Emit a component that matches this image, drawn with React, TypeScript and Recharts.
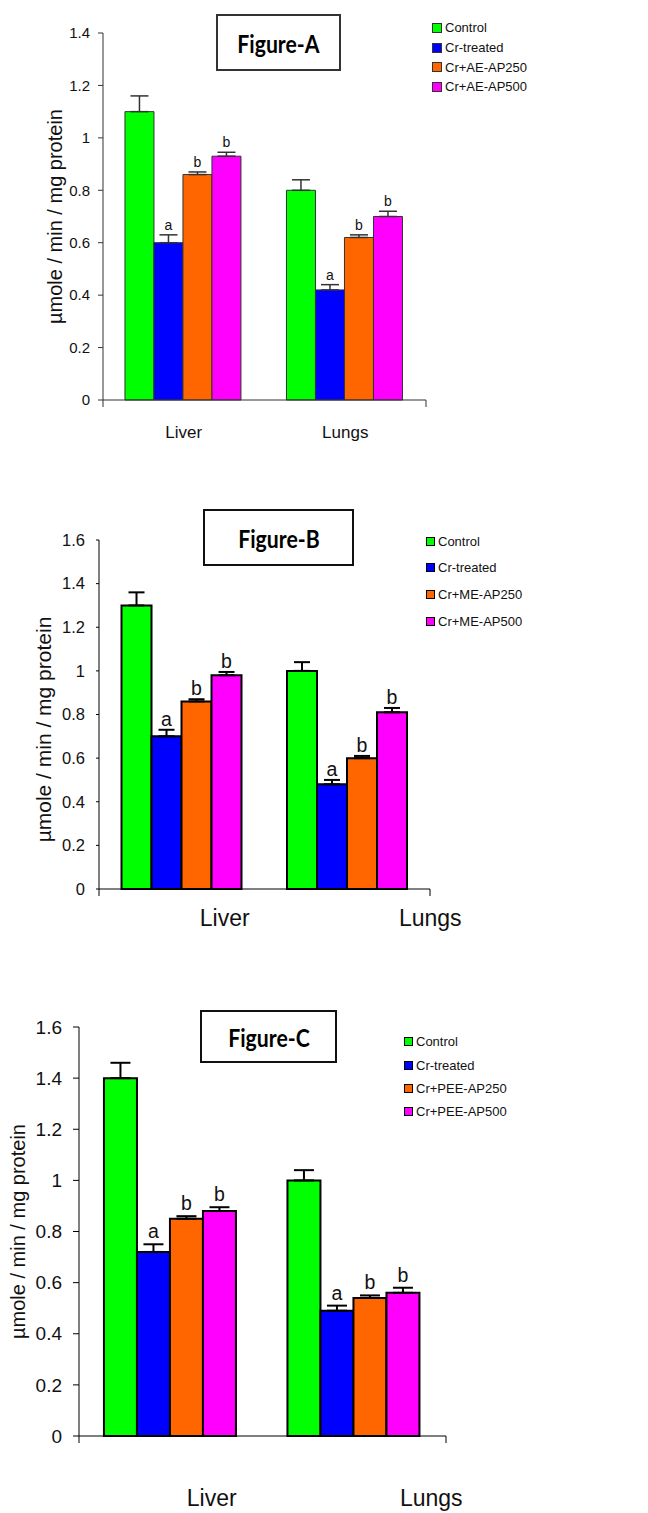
import React from "react";
import { Bar, BarChart, ErrorBar, Label, LabelList, Legend, XAxis, YAxis } from "recharts";

const organs = ["Liver", "Lungs"];
const seriesColors = ["#00ff00", "#0000ff", "#ff6600", "#ff00ff"];
const sigMarks = ["", "a", "b", "b"];

const namesA = ["Control", "Cr-treated", "Cr+AE-AP250", "Cr+AE-AP500"];
const liverA = [1.1, 0.6, 0.86, 0.93];
const lungsA = [0.8, 0.42, 0.62, 0.7];
const liverErrA = [0.06, 0.03, 0.01, 0.015];
const lungsErrA = [0.04, 0.02, 0.01, 0.02];

const namesB = ["Control", "Cr-treated", "Cr+ME-AP250", "Cr+ME-AP500"];
const liverB = [1.3, 0.7, 0.86, 0.98];
const lungsB = [1.0, 0.48, 0.6, 0.81];
const liverErrB = [0.06, 0.03, 0.01, 0.015];
const lungsErrB = [0.04, 0.02, 0.01, 0.02];

const namesC = ["Control", "Cr-treated", "Cr+PEE-AP250", "Cr+PEE-AP500"];
const liverC = [1.4, 0.72, 0.85, 0.88];
const lungsC = [1.0, 0.49, 0.54, 0.56];
const liverErrC = [0.06, 0.03, 0.01, 0.015];
const lungsErrC = [0.04, 0.02, 0.01, 0.02];

const ticksA = [0, 0.2, 0.4, 0.6, 0.8, 1, 1.2, 1.4];
const ticks16 = [0, 0.2, 0.4, 0.6, 0.8, 1, 1.2, 1.4, 1.6];

const YLABEL = "µmole / min / mg protein";
const FONT = "'Liberation Sans', Arial, sans-serif";

function buildRows(values: number[][], errs: number[][]) {
  return organs.map((organ, i) => {
    const row: any = { organ };
    values[i].forEach((v, k) => {
      row[`v${k}`] = v;
      row[`e${k}`] = [0, errs[i][k]];
      row[`m${k}`] = sigMarks[k];
    });
    return row;
  });
}

const figA = {
  title: "Figure-A",
  names: namesA,
  rows: buildRows([liverA, lungsA], [liverErrA, lungsErrA]),
  ticks: ticksA,
  top: 0, height: 450,
  plot: { top: 33, bottom: 400, left: 103, right: 426 },
  box: { left: 216, top: 14, width: 125, height: 57, font: 25, border: "2px solid #333" },
  legend: { left: 432, top: 18, row: 19.7, font: 13, sq: 8 },
  yLabel: { x: 55, font: 20, dy: 0 },
  tick: { font: 15, size: 5, margin: 8 },
  xLabel: { font: 17, base: 38, shift: [0, 0] },
  sig: { font: 14, gap: 5 },
  stroke: "#333", barW: 1, errW: 1.5, cap: 9,
};

const figB = {
  title: "Figure-B",
  names: namesB,
  rows: buildRows([liverB, lungsB], [liverErrB, lungsErrB]),
  ticks: ticks16,
  top: 480, height: 470,
  plot: { top: 60, bottom: 409, left: 99, right: 430 },
  box: { left: 203, top: 29, width: 151, height: 57, font: 25, border: "2px solid #111" },
  legend: { left: 426, top: 47.7, row: 26.7, font: 13, sq: 7 },
  yLabel: { x: 43, font: 21, dy: 15 },
  tick: { font: 16.5, size: 3, margin: 11 },
  xLabel: { font: 23, base: 37, shift: [43, 83] },
  sig: { font: 19.5, gap: 4 },
  stroke: "#000", barW: 2, errW: 2, cap: 8,
};

const figC = {
  title: "Figure-C",
  names: namesC,
  rows: buildRows([liverC, lungsC], [liverErrC, lungsErrC]),
  ticks: ticks16,
  top: 950, height: 563,
  plot: { top: 77, bottom: 486, left: 79, right: 446 },
  box: { left: 200, top: 60, width: 137, height: 53, font: 25, border: "2px solid #111" },
  legend: { left: 404, top: 80.3, row: 23.3, font: 13, sq: 7 },
  yLabel: { x: 18, font: 20, dy: 0 },
  tick: { font: 19, size: 6, margin: 11 },
  xLabel: { font: 23, base: 70, shift: [41, 77] },
  sig: { font: 19.5, gap: 6 },
  stroke: "#000", barW: 2, errW: 2, cap: 10,
};

type Fig = typeof figA;

function LegendBox({ payload, fig }: { payload?: any[]; fig: Fig }) {
  const L = fig.legend;
  return (
    <div style={{ fontFamily: FONT, fontSize: L.font, color: "#111" }}>
      {(payload ?? []).map((p: any, i: number) => (
        <div key={i} style={{ height: L.row, display: "flex", alignItems: "center" }}>
          <span
            style={{
              width: L.sq,
              height: L.sq,
              background: p.color,
              border: `1px solid ${fig.stroke}`,
              marginRight: 3,
              flex: "none",
            }}
          />
          <span style={{ whiteSpace: "nowrap" }}>{p.value}</span>
        </div>
      ))}
    </div>
  );
}

function FigureChart({ fig }: { fig: Fig }) {
  const { plot } = fig;
  const edgeH = 8;
  const yAxisW = 60;
  const midY = (plot.top + plot.bottom) / 2 + fig.yLabel.dy;

  const sigContent = (k: number) => (props: any) => {
    const vb = props.viewBox ?? props;
    const x = Number(props.x ?? vb.x);
    const y = Number(props.y ?? vb.y);
    const w = Number(props.width ?? vb.width);
    const h = Number(props.height ?? vb.height);
    const row = fig.rows[props.index];
    if (!props.value || !row) return null;
    const px = (h / row[`v${k}`]) * row[`e${k}`][1];
    return (
      <text
        x={x + w / 2}
        y={y - px - fig.sig.gap}
        textAnchor="middle"
        fontSize={fig.sig.font}
        fontFamily={FONT}
        fill="#111"
      >
        {props.value}
      </text>
    );
  };

  const catTick = (props: any) => (
    <text
      x={props.x + fig.xLabel.shift[props.index]}
      y={plot.bottom + fig.xLabel.base}
      textAnchor="middle"
      fontSize={fig.xLabel.font}
      fontFamily={FONT}
      fill="#111"
    >
      {props.payload.value}
    </text>
  );

  return (
    <div style={{ position: "absolute", left: 0, top: fig.top, width: 648, height: fig.height }}>
      <BarChart
        width={648}
        height={fig.height}
        data={fig.rows}
        margin={{ top: plot.top, right: 648 - plot.right, left: plot.left - yAxisW, bottom: 0 }}
        barGap={0}
        barCategoryGap="13.6%"
      >
        <XAxis
          xAxisId={1}
          dataKey="organ"
          height={fig.height - plot.bottom - edgeH}
          axisLine={false}
          tickLine={false}
          tickSize={0}
          tick={catTick}
        />
        <XAxis
          xAxisId={0}
          type="number"
          domain={[0, 2]}
          ticks={[0, 1, 2]}
          allowDataOverflow
          height={edgeH}
          tickSize={7}
          tickFormatter={() => ""}
          axisLine={{ stroke: fig.stroke }}
          tickLine={{ stroke: fig.stroke }}
        />
        <YAxis
          width={yAxisW}
          domain={[0, fig.ticks[fig.ticks.length - 1]]}
          ticks={fig.ticks}
          interval={0}
          tickSize={fig.tick.size}
          tickMargin={fig.tick.margin}
          tickFormatter={(v: number) => String(Math.round(v * 10) / 10)}
          tick={{ fontSize: fig.tick.font, fill: "#111", fontFamily: FONT }}
          axisLine={{ stroke: fig.stroke }}
          tickLine={{ stroke: fig.stroke }}
        >
          <Label
            content={() => (
              <text
                x={fig.yLabel.x}
                y={midY}
                transform={`rotate(-90 ${fig.yLabel.x} ${midY})`}
                textAnchor="middle"
                dominantBaseline="central"
                fontSize={fig.yLabel.font}
                fontFamily={FONT}
                fill="#111"
              >
                {YLABEL}
              </text>
            )}
          />
        </YAxis>
        <Legend
          layout="vertical"
          verticalAlign="middle"
          align="center"
          itemSorter="dataKey"
          wrapperStyle={{ left: fig.legend.left, top: fig.legend.top, width: "auto" }}
          content={(p: any) => <LegendBox payload={p.payload} fig={fig} />}
        />
        {fig.names.map((name, k) => (
          <Bar
            key={name}
            xAxisId={1}
            dataKey={`v${k}`}
            name={name}
            fill={seriesColors[k]}
            stroke={fig.stroke}
            strokeWidth={fig.barW}
            isAnimationActive={false}
          >
            <ErrorBar
              dataKey={`e${k}`}
              direction="y"
              width={fig.cap}
              stroke={fig.stroke}
              strokeWidth={fig.errW}
              isAnimationActive={false}
            />
            {sigMarks[k] && <LabelList dataKey={`m${k}`} content={sigContent(k)} />}
          </Bar>
        ))}
      </BarChart>
      <div
        style={{
          position: "absolute",
          left: fig.box.left,
          top: fig.box.top,
          width: fig.box.width,
          height: fig.box.height,
          boxSizing: "border-box",
          border: fig.box.border,
          background: "#fff",
          display: "flex",
          alignItems: "center",
          justifyContent: "center",
          fontFamily: "Lato, 'Open Sans', sans-serif",
          fontWeight: 700,
          fontSize: fig.box.font,
          color: "#000",
        }}
      >
        <span style={{ display: "inline-block", transform: "scaleX(0.85)" }}>{fig.title}</span>
      </div>
    </div>
  );
}

export default function App() {
  return (
    <div style={{ position: "absolute", left: 0, top: 0, width: 648, height: 1513, background: "#fff", overflow: "hidden" }}>
      <FigureChart fig={figA} />
      <FigureChart fig={figB} />
      <FigureChart fig={figC} />
    </div>
  );
}
